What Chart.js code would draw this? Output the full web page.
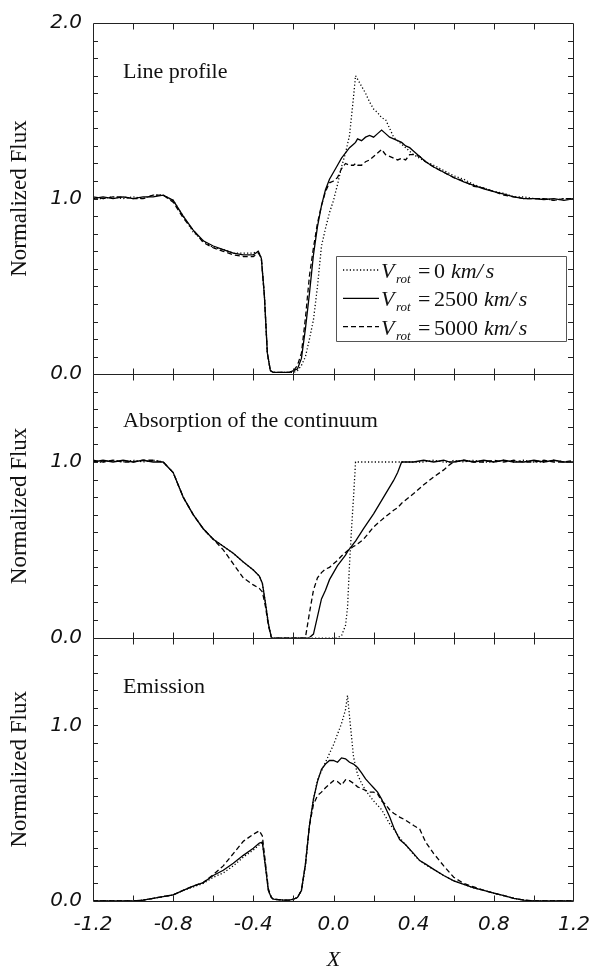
<!DOCTYPE html>
<html>
<head>
<meta charset="utf-8">
<script src="https://cdn.jsdelivr.net/npm/chart.js@4.4.1/dist/chart.umd.min.js"></script>
<style>
  body { margin: 0; background: #fff; }
  #wrap { width: 595px; height: 971px; }
</style>
</head>
<body>
<div id="wrap"><canvas id="flux" width="595" height="971"></canvas></div>
<script>
// --- data ---
const legendSpeeds = ["0", "2500", "5000"];
const panelTitles = ["Line profile", "Absorption of the continuum", "Emission"];

// panel 1 : line profile
const xA = [-1.2,-1.15,-1.1,-1.05,-1.0,-0.95,-0.9,-0.85,-0.8,-0.75,-0.7,-0.65,-0.6,-0.55,-0.5,-0.45,-0.4,
  -0.375,-0.36,-0.345,-0.33,-0.315,-0.3,-0.25,-0.22,-0.2,
  -0.18,-0.16,-0.14,-0.12,-0.1,-0.08,-0.06,-0.04,-0.02,0,0.02,0.04,0.06,0.08,0.1,0.11,
  0.12,0.14,0.16,0.18,0.2,0.22,0.24,0.26,0.28,0.3,0.32,0.34,0.36,0.38,0.4,0.43,0.46,
  0.5,0.55,0.6,0.65,0.7,0.75,0.8,0.85,0.9,0.95,1.0,1.05,1.1,1.15,1.2];
const dotA = [1.00,1.00,1.01,1.00,1.01,1.00,1.02,1.02,0.99,0.90,0.81,0.76,0.72,0.71,0.69,0.69,0.69,
  0.70,0.66,0.45,0.12,0.02,0.01,0.01,0.01,0.01,
  0.02,0.05,0.10,0.20,0.31,0.50,0.73,0.83,0.92,0.99,1.08,1.18,1.26,1.36,1.58,1.70,
  1.68,1.64,1.60,1.55,1.51,1.49,1.46,1.45,1.40,1.35,1.33,1.31,1.29,1.27,1.25,1.23,1.21,
  1.19,1.16,1.13,1.11,1.08,1.06,1.04,1.03,1.01,1.01,1.00,1.00,0.99,1.00,1.00];
const solA = [1.00,1.01,1.00,1.01,1.00,1.01,1.01,1.02,0.99,0.90,0.82,0.76,0.73,0.71,0.69,0.68,0.68,
  0.70,0.66,0.45,0.12,0.02,0.01,0.01,0.01,0.02,
  0.03,0.09,0.26,0.46,0.68,0.84,0.96,1.05,1.11,1.15,1.19,1.23,1.26,1.29,1.31,1.32,
  1.34,1.33,1.35,1.36,1.35,1.37,1.39,1.37,1.35,1.34,1.33,1.32,1.30,1.29,1.27,1.24,1.21,
  1.18,1.15,1.12,1.095,1.075,1.055,1.04,1.025,1.01,1.00,1.00,0.995,1.00,0.99,1.00];
const dashA = [1.01,1.00,1.01,1.01,1.00,1.00,1.02,1.02,0.98,0.89,0.82,0.75,0.72,0.70,0.68,0.67,0.67,
  0.69,0.66,0.45,0.12,0.02,0.01,0.01,0.01,0.02,
  0.05,0.12,0.32,0.56,0.72,0.86,0.96,1.04,1.09,1.10,1.12,1.17,1.20,1.19,1.19,1.20,
  1.19,1.19,1.21,1.22,1.24,1.26,1.28,1.25,1.24,1.23,1.22,1.23,1.22,1.25,1.25,1.24,1.21,
  1.18,1.15,1.12,1.10,1.07,1.06,1.04,1.02,1.01,1.00,1.00,1.00,0.99,1.00,1.00];

// panel 2 : absorption of the continuum
const xB = [-1.2,-1.15,-1.1,-1.05,-1.0,-0.95,-0.9,-0.85,-0.8,-0.75,-0.7,-0.65,-0.6,-0.55,-0.5,-0.45,-0.4,
  -0.37,-0.355,-0.34,-0.325,-0.31,-0.25,-0.2,-0.15,
  -0.14,-0.12,-0.1,-0.08,-0.06,-0.04,-0.02,0,0.02,0.04,0.06,0.07,0.08,0.09,0.1,0.11,
  0.15,0.2,0.25,0.3,0.32,0.34,0.4,0.45,0.5,0.55,0.58,0.6,
  0.65,0.7,0.75,0.8,0.85,0.9,0.95,1.0,1.05,1.1,1.15,1.2];
const dotB = [1.00,1.00,1.01,1.00,1.01,1.00,1.01,1.00,0.94,0.80,0.70,0.62,0.56,0.52,0.48,0.43,0.385,
  0.35,0.31,0.20,0.08,0,0,0,0,
  0,0,0,0,0,0,0,0,0,0.01,0.07,0.17,0.42,0.62,0.80,1.00,
  1.00,1.00,1.00,1.00,1.00,1.00,1.00,1.00,1.01,1.00,1.00,1.01,
  1.00,1.01,1.00,1.00,1.01,1.00,1.01,1.00,1.00,1.01,1.00,1.00];
const solB = [1.00,1.01,1.00,1.01,1.00,1.01,1.00,1.00,0.94,0.80,0.70,0.62,0.56,0.52,0.48,0.43,0.385,
  0.35,0.31,0.20,0.08,0,0,0,0,
  0,0,0.02,0.12,0.22,0.27,0.33,0.37,0.41,0.44,0.47,0.49,0.505,0.52,0.535,0.55,
  0.62,0.705,0.80,0.895,0.94,1.00,1.00,1.01,1.00,1.01,1.00,1.00,
  1.01,1.00,1.01,1.00,1.01,1.00,1.00,1.01,1.00,1.01,1.00,1.00];
const dashB = [1.01,1.00,1.01,1.00,1.00,1.01,1.01,1.00,0.94,0.80,0.70,0.62,0.56,0.50,0.42,0.34,0.30,
  0.28,0.26,0.18,0.07,0,0,0,0,
  0,0.14,0.27,0.34,0.37,0.39,0.40,0.42,0.44,0.465,0.485,0.495,0.505,0.51,0.52,0.525,
  0.56,0.63,0.68,0.725,0.74,0.765,0.82,0.87,0.915,0.955,0.985,1.00,
  1.01,1.00,1.00,1.01,1.00,1.01,1.00,1.00,1.01,1.00,1.00,1.01];

// panel 3 : emission
const xC = [-1.2,-1.1,-1.0,-0.95,-0.9,-0.85,-0.8,-0.75,-0.7,-0.65,-0.6,-0.55,-0.5,-0.45,-0.4,
  -0.37,-0.355,-0.34,-0.325,-0.31,-0.3,-0.25,-0.22,-0.2,
  -0.18,-0.16,-0.14,-0.12,-0.1,-0.08,-0.06,-0.04,-0.02,0,0.02,0.04,0.06,0.07,0.08,
  0.1,0.12,0.14,0.16,0.18,0.2,0.22,0.24,0.26,0.28,0.3,0.33,0.36,0.4,0.43,0.46,
  0.5,0.55,0.6,0.65,0.7,0.75,0.8,0.85,0.9,0.95,1.0,1.1,1.2];
const dotC = [0,0,0,0.005,0.015,0.025,0.035,0.06,0.08,0.10,0.135,0.16,0.20,0.25,0.29,
  0.32,0.33,0.20,0.06,0.02,0.01,0.005,0.005,0.01,
  0.02,0.06,0.20,0.43,0.58,0.69,0.74,0.79,0.84,0.89,0.95,1.01,1.09,1.17,1.05,
  0.82,0.72,0.67,0.63,0.60,0.57,0.545,0.52,0.48,0.44,0.41,0.36,0.32,0.265,0.23,0.205,
  0.18,0.145,0.115,0.095,0.075,0.06,0.045,0.03,0.015,0.005,0,0,0];
const solC = [0,0,0,0.005,0.015,0.025,0.035,0.06,0.085,0.105,0.145,0.175,0.215,0.26,0.30,
  0.33,0.335,0.20,0.06,0.02,0.01,0.005,0.005,0.01,
  0.02,0.06,0.21,0.43,0.58,0.68,0.75,0.78,0.80,0.80,0.79,0.815,0.81,0.80,0.79,
  0.78,0.76,0.73,0.695,0.67,0.645,0.62,0.58,0.53,0.48,0.42,0.35,0.32,0.27,0.23,0.21,
  0.18,0.145,0.115,0.095,0.075,0.06,0.045,0.03,0.015,0.005,0,0,0];
const dashC = [0,0,0,0.005,0.015,0.025,0.035,0.06,0.085,0.105,0.15,0.20,0.27,0.34,0.38,
  0.40,0.37,0.22,0.07,0.02,0.01,0.005,0.005,0.01,
  0.02,0.06,0.21,0.43,0.55,0.60,0.62,0.645,0.665,0.685,0.68,0.66,0.69,0.685,0.685,
  0.67,0.65,0.64,0.63,0.62,0.62,0.61,0.57,0.55,0.52,0.50,0.478,0.46,0.43,0.41,0.335,
  0.27,0.20,0.135,0.10,0.08,0.06,0.045,0.03,0.015,0.005,0,0,0];

const serif = '"Liberation Serif", "Times New Roman", serif';
const sans = '"DejaVu Sans", sans-serif';
const ink = '#111';

function pts(xs, ys) { return xs.map((x, i) => ({x: x, y: ys[i]})); }

const dashes = [[1.2, 2.2], [], [5, 3]];
function line(data, k, axis) {
  return {
    data: data, yAxisID: axis,
    borderColor: '#000', borderWidth: 1.3, borderDash: dashes[k],
    pointRadius: 0, tension: 0, fill: false,
  };
}

const panelIds = ['yA', 'yB', 'yC'];

function yAxis(max, weight) {
  return {
    type: 'linear', position: 'left', stack: 'panels', stackWeight: weight,
    min: 0, max: max,
    afterFit: s => { s.width = 93; },
    grid: { display: false, drawTicks: false },
    border: { display: false },
    ticks: {
      stepSize: 0.1, autoSkip: false, padding: 11, color: ink,
      font: { family: sans, style: 'italic', size: 20 },
      callback: v => Math.abs(v - Math.round(v)) < 1e-6 ? (Math.round(v) + 0).toFixed(1) : '',
    },
    title: {
      display: true, text: 'Normalized Flux', color: ink,
      font: { family: serif, size: 23, lineHeight: 1 }, padding: { top: 8, bottom: 0 },
    },
  };
}

// frame, inward ticks, panel titles and the legend
const frame = {
  id: 'frame',
  afterDatasetsDraw(chart) {
    const {ctx, chartArea: a, scales} = chart;
    const xs = scales.x;
    ctx.save();
    ctx.strokeStyle = '#222';
    ctx.lineWidth = 1;
    panelIds.forEach((id, i) => {
      const s = scales[id];
      const top = Math.round(s.getPixelForValue(s.max)) + 0.5;
      const bot = Math.round(s.getPixelForValue(s.min)) + 0.5;
      ctx.beginPath();
      ctx.rect(a.left + 0.5, top, a.right - a.left - 1, bot - top);
      const n = Math.round((s.max - s.min) / 0.1);
      for (let k = 1; k < n; k++) {
        const y = Math.round(s.getPixelForValue(k * 0.1)) + 0.5;
        ctx.moveTo(a.left, y); ctx.lineTo(a.left + 5, y);
        ctx.moveTo(a.right - 6, y); ctx.lineTo(a.right, y);
      }
      for (let k = 1; k < 12; k++) {
        const x = Math.round(xs.getPixelForValue(-1.2 + k * 0.2)) + 0.5;
        ctx.moveTo(x, bot); ctx.lineTo(x, bot - 6);
        ctx.moveTo(x, top); ctx.lineTo(x, top + 6);
      }
      ctx.stroke();

      ctx.fillStyle = ink;
      ctx.font = '22px ' + serif;
      ctx.textBaseline = 'alphabetic';
      ctx.textAlign = 'left';
      ctx.fillText(panelTitles[i], a.left + 30, top + (i === 1 ? 52 : 54));
    });

    // legend in the top panel
    const lx = 336, ly = 256;
    ctx.beginPath();
    ctx.strokeStyle = '#555';
    ctx.rect(lx + 0.5, ly + 0.5, 230, 85);
    ctx.stroke();
    legendSpeeds.forEach((v, k) => {
      const base = 278 + k * 28.3;
      ctx.beginPath();
      ctx.strokeStyle = '#000';
      ctx.lineWidth = 1.3;
      ctx.setLineDash(dashes[k]);
      ctx.moveTo(343, base - 8); ctx.lineTo(379, base - 8);
      ctx.stroke();
      ctx.setLineDash([]);
      ctx.fillStyle = ink;
      ctx.font = 'italic 22px ' + serif;
      ctx.fillText('V', 381, base);
      ctx.font = 'italic 13px ' + serif;
      ctx.fillText('rot', 396, base + 5);
      ctx.font = '22px ' + serif;
      ctx.fillText('=', 418, base);
      ctx.fillText(v, 434, base);
      const w = ctx.measureText(v).width;
      ctx.font = 'italic 22px ' + serif;
      ctx.fillText('km/', 434 + w + 6, base);
      const w2 = ctx.measureText('km/').width;
      ctx.fillText('s', 434 + w + 9 + w2, base);
    });
    ctx.restore();
  }
};

const sets = [];
[[dotA, solA, dashA, xA, 'yA'], [dotB, solB, dashB, xB, 'yB'], [dotC, solC, dashC, xC, 'yC']].forEach(p => {
  for (let k = 0; k < 3; k++) sets.push(line(pts(p[3], p[k]), k, p[4]));
});

new Chart(document.getElementById('flux'), {
  type: 'line',
  data: { datasets: sets },
  options: {
    responsive: false,
    animation: false,
    layout: { padding: { left: 0, right: 21, top: 18, bottom: 0 } },
    plugins: { legend: { display: false }, tooltip: { enabled: false } },
    scales: {
      x: {
        type: 'linear', min: -1.2, max: 1.2,
        afterFit: s => { s.height = 70; s.paddingRight = 0; s.paddingLeft = 0; },
        grid: { display: false, drawTicks: false },
        border: { display: false },
        ticks: {
          stepSize: 0.2, autoSkip: false, maxRotation: 0, padding: 12, color: ink,
          font: { family: sans, style: 'italic', size: 20 },
          callback: v => {
            const q = v / 0.4;
            return Math.abs(q - Math.round(q)) < 1e-6 ? (Math.round(v * 10) / 10 + 0).toFixed(1) : '';
          },
        },
        title: {
          display: true, text: 'X', color: ink,
          font: { family: serif, style: 'italic', size: 22, lineHeight: 1 }, padding: 0,
        },
      },
      yC: yAxis(1.5, 1.5),
      yB: yAxis(1.5, 1.5),
      yA: yAxis(2.0, 2),
    },
  },
  plugins: [frame],
});
</script>
</body>
</html>
